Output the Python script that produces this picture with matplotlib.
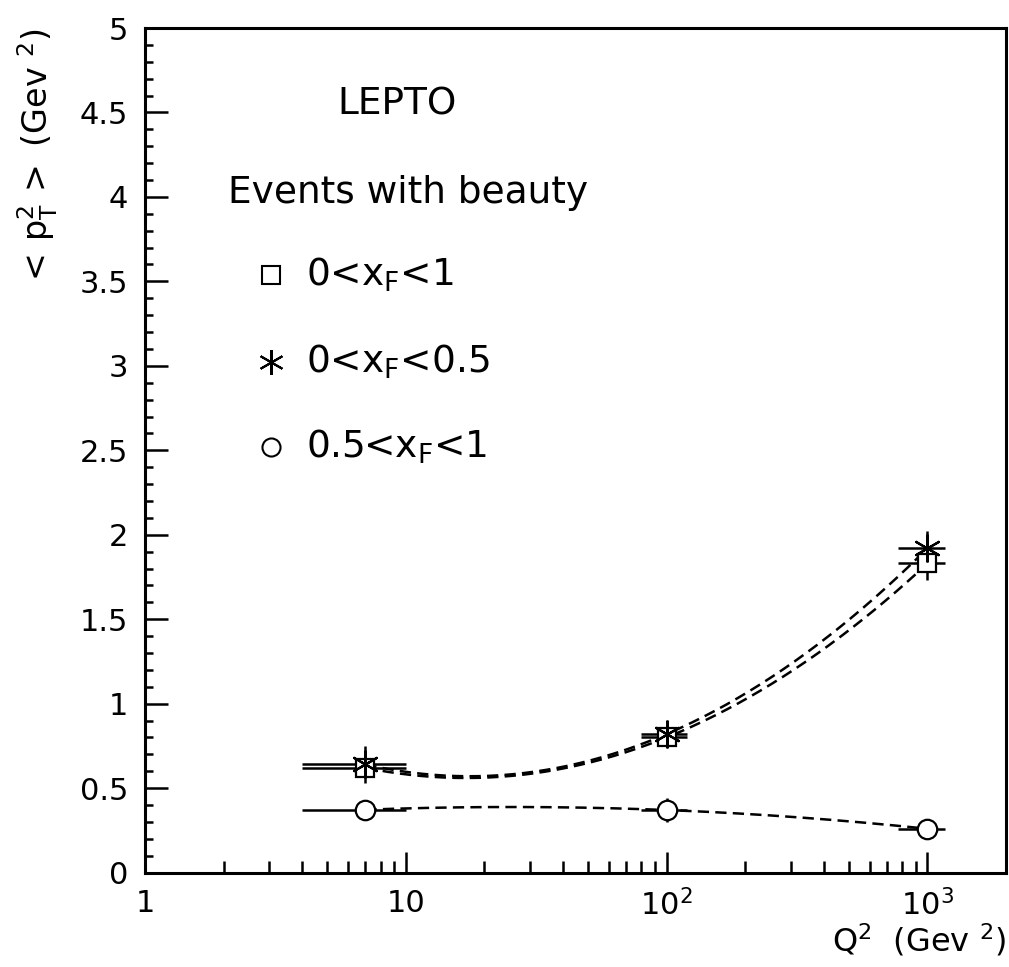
import matplotlib
matplotlib.use("Agg")
import matplotlib.pyplot as plt
from matplotlib.ticker import FixedLocator, NullFormatter
import numpy as np

plt.rcParams['font.family'] = ['DejaVu Sans']
plt.rcParams['mathtext.fontset'] = 'dejavusans'

# Q^2 bins (centre, low edge, high edge)
q2 = [7, 100, 1000]
q2_lo = [4, 80, 770]
q2_hi = [10, 120, 1170]

# <pT^2> for the three xF ranges
pt2_all = [0.62, 0.80, 1.83]      # 0 < xF < 1
pt2_all_err = [0.04, 0.04, 0.10]
pt2_low = [0.64, 0.82, 1.92]      # 0 < xF < 0.5
pt2_low_err = [0.11, 0.05, 0.10]
pt2_high = [0.372, 0.370, 0.259]  # 0.5 < xF < 1
pt2_high_err = [0.03, 0.07, 0.03]

legend_labels = ['0<x$_\\mathrm{F}$<1', '0<x$_\\mathrm{F}$<0.5', '0.5<x$_\\mathrm{F}$<1']

fig = plt.figure(figsize=(10.09, 9.67), dpi=100)
ax = fig.add_axes([0.1437, 0.0977, 0.8533, 0.8733])
ax.set_xscale('log')
ax.set_xlim(1, 2000)
ax.set_ylim(0, 5)

x = np.array(q2, dtype=float)
xerr = [x - np.array(q2_lo), np.array(q2_hi) - x]

star = (6, 2, 0)
series = [
    (pt2_all, pt2_all_err, 's', 13),
    (pt2_low, pt2_low_err, star, 20),
    (pt2_high, pt2_high_err, 'o', 14),
]

for y, yerr, mk, ms in series:
    ax.errorbar(x, y, xerr=xerr, yerr=yerr, fmt='none', ecolor='black',
                elinewidth=1.8, capsize=0)
    ax.plot(x, y, linestyle='none', marker=mk, markersize=ms,
            markerfacecolor='white' if mk != star else 'black',
            markeredgecolor='black', markeredgewidth=1.6, zorder=3)
    # smooth dashed curve through the three points (quadratic in log Q^2)
    c = np.polyfit(np.log10(x), y, 2)
    t = np.linspace(np.log10(x[0]), np.log10(x[-1]), 200)
    ax.plot(10 ** t, np.polyval(c, t), color='black', linestyle=(0, (4.5, 2.5)),
            linewidth=1.8)

# axis styling: ticks inside, left and bottom only
for s in ax.spines.values():
    s.set_linewidth(2.2)
ax.tick_params(which='both', direction='in', top=False, right=False,
               labelsize=22, width=1.8)
ax.tick_params(axis='x', which='major', length=15, pad=12)
ax.tick_params(axis='x', which='minor', length=8.5)
ax.tick_params(axis='y', which='major', length=16.5, pad=12)
ax.tick_params(axis='y', which='minor', length=6)

ax.xaxis.set_major_locator(FixedLocator([1, 10, 100, 1000]))
ax.set_xticklabels(['1', '10', '10$^2$', '10$^3$'])
minors = [m * 10 ** d for d in range(3) for m in range(2, 10)]
ax.xaxis.set_minor_locator(FixedLocator(minors))
ax.xaxis.set_minor_formatter(NullFormatter())

ax.set_yticks(np.arange(0, 5.01, 0.5))
ax.set_yticklabels(['0', '0.5', '1', '1.5', '2', '2.5', '3', '3.5', '4', '4.5', '5'])
ax.yaxis.set_minor_locator(FixedLocator(np.arange(0, 5.01, 0.1)))

ax.set_xlabel('Q$^2$  (Gev $^2$)', fontsize=23, loc='right', labelpad=0)
ax.set_ylabel(r'$<\,\mathrm{p}_\mathrm{T}^2\,>$ (Gev $^2$)', fontsize=24,
              loc='top', labelpad=14)

# text block and hand-made legend
ax.text(0.293, 0.909, 'LEPTO', transform=ax.transAxes, fontsize=27,
        ha='center', va='center')
ax.text(0.0964, 0.8046, 'Events with beauty', transform=ax.transAxes,
        fontsize=27, ha='left', va='center')
for i, (mk, lab) in enumerate(zip(['s', star, 'o'], legend_labels)):
    yy = [0.7075, 0.605, 0.504][i]
    ax.plot([0.146], [yy], transform=ax.transAxes, marker=mk,
            markersize=18 if mk == star else 13,
            markerfacecolor='white' if mk != star else 'black',
            markeredgecolor='black', markeredgewidth=1.5, linestyle='none',
            clip_on=False)
    ax.text(0.187, yy, lab, transform=ax.transAxes, fontsize=27,
            ha='left', va='center')

fig.savefig('out.png', dpi=100)
